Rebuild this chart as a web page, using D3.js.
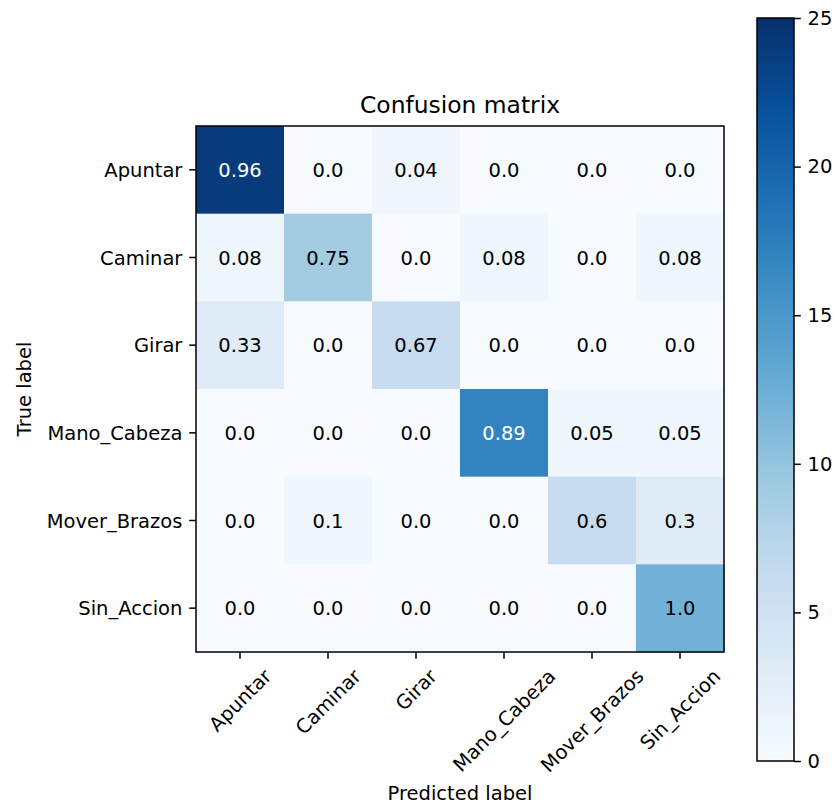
<!DOCTYPE html>
<html>
<head>
<meta charset="utf-8">
<script src="https://cdn.jsdelivr.net/npm/d3@7"></script>
<style>
  html, body { margin: 0; padding: 0; background: #fff; }
  svg { display: block; font-family: "DejaVu Sans", sans-serif; }
</style>
</head>
<body>
<svg id="chart" width="837" height="809"></svg>
<script>
// Class names (rows = true label, columns = predicted label)
const classes = ["Apuntar", "Caminar", "Girar", "Mano_Cabeza", "Mover_Brazos", "Sin_Accion"];

// Raw sample counts per true class
const rowApuntar     = [24, 0, 1, 0, 0, 0];
const rowCaminar     = [1, 9, 0, 1, 0, 1];
const rowGirar       = [3, 0, 6, 0, 0, 0];
const rowManoCabeza  = [0, 0, 0, 17, 1, 1];
const rowMoverBrazos = [0, 1, 0, 0, 6, 3];
const rowSinAccion   = [0, 0, 0, 0, 0, 12];
const counts = [rowApuntar, rowCaminar, rowGirar, rowManoCabeza, rowMoverBrazos, rowSinAccion];

// Colour bar range and ticks
const colorDomain = [0, 25];
const colorTicks = [0, 5, 10, 15, 20, 25];

const titleText = "Confusion matrix";
const xLabelText = "Predicted label";
const yLabelText = "True label";

// Matplotlib "Blues" colormap stops
const bluesStops = ["#f7fbff", "#deebf7", "#c6dbef", "#9ecae1", "#6baed6", "#4292c6", "#2171b5", "#08519c", "#08306b"];

const svg = d3.select("#chart");
const fs = 19.5;          // tick / annotation font size
const tickLen = 6.8, tickPad = 6.8, lw = 1.5;

const plot = { left: 196, top: 126, right: 724, bottom: 652 };
const x = d3.scaleBand().domain(d3.range(classes.length)).range([plot.left, plot.right]);
const y = d3.scaleBand().domain(d3.range(classes.length)).range([plot.top, plot.bottom]);

const blues = d3.scaleLinear()
  .domain(bluesStops.map((_, i) => colorDomain[0] + (colorDomain[1] - colorDomain[0]) * i / (bluesStops.length - 1)))
  .range(bluesStops)
  .interpolate(d3.interpolateRgb)
  .clamp(true);

// Flatten into cells with normalised value per row
const cells = [];
counts.forEach((row, i) => {
  const total = d3.sum(row);
  row.forEach((c, j) => cells.push({ i, j, count: c, norm: c / total }));
});
const thresh = d3.max(counts.flat()) / 2;

function pyRound(v) {
  const r = Math.round(v * 100) / 100;
  return Number.isInteger(r) ? r.toFixed(1) : String(r);
}

// Heatmap cells
svg.append("g").selectAll("rect").data(cells).join("rect")
  .attr("x", d => x(d.j))
  .attr("y", d => y(d.i))
  .attr("width", x.bandwidth() + 0.5)
  .attr("height", y.bandwidth() + 0.5)
  .attr("fill", d => blues(d.count));

// Cell annotations
svg.append("g").selectAll("text").data(cells).join("text")
  .attr("x", d => x(d.j) + x.bandwidth() / 2)
  .attr("y", d => y(d.i) + y.bandwidth() / 2)
  .attr("dy", "0.36em")
  .attr("text-anchor", "middle")
  .attr("font-size", fs)
  .attr("fill", d => d.count > thresh ? "#ffffff" : "#000000")
  .text(d => pyRound(d.norm));

// Axes frame
svg.append("rect")
  .attr("x", plot.left).attr("y", plot.top)
  .attr("width", plot.right - plot.left).attr("height", plot.bottom - plot.top)
  .attr("fill", "none").attr("stroke", "#000").attr("stroke-width", lw);

// Y ticks
const yg = svg.append("g");
classes.forEach((c, i) => {
  const cy = y(i) + y.bandwidth() / 2;
  yg.append("line").attr("x1", plot.left - tickLen).attr("x2", plot.left)
    .attr("y1", cy).attr("y2", cy).attr("stroke", "#000").attr("stroke-width", lw);
  yg.append("text").attr("x", plot.left - tickLen - tickPad).attr("y", cy)
    .attr("dy", "0.36em").attr("text-anchor", "end").attr("font-size", fs).text(c);
});

// X ticks with labels rotated 45 degrees, centred under each tick
const xg = svg.append("g");
const labelTop = plot.bottom + tickLen + tickPad;
const lineH = fs * 1.0;
classes.forEach((c, j) => {
  const cx = x(j) + x.bandwidth() / 2;
  xg.append("line").attr("x1", cx).attr("x2", cx)
    .attr("y1", plot.bottom).attr("y2", plot.bottom + tickLen)
    .attr("stroke", "#000").attr("stroke-width", lw);
  const t = xg.append("text").attr("text-anchor", "middle").attr("font-size", fs)
    .attr("dy", "0.36em").text(c);
  const w = t.node().getComputedTextLength();
  const half = (w + lineH) * Math.SQRT1_2 / 2;
  t.attr("transform", `translate(${cx},${labelTop + half}) rotate(-45)`);
});

// Title and axis labels
svg.append("text").attr("x", (plot.left + plot.right) / 2).attr("y", 113)
  .attr("text-anchor", "middle").attr("font-size", 23.4).text(titleText);
svg.append("text").attr("x", (plot.left + plot.right) / 2).attr("y", 800)
  .attr("text-anchor", "middle").attr("font-size", fs).text(xLabelText);
svg.append("text").attr("transform", `translate(31,${(plot.top + plot.bottom) / 2}) rotate(-90)`)
  .attr("text-anchor", "middle").attr("font-size", fs).text(yLabelText);

// Colour bar
const cb = { left: 757, right: 794, top: 18, bottom: 761 };
const cbScale = d3.scaleLinear().domain(colorDomain).range([cb.bottom, cb.top]);
const defs = svg.append("defs");
const grad = defs.append("linearGradient").attr("id", "cbGrad")
  .attr("x1", 0).attr("y1", 1).attr("x2", 0).attr("y2", 0);
bluesStops.forEach((col, i) => {
  grad.append("stop").attr("offset", i / (bluesStops.length - 1)).attr("stop-color", col);
});
svg.append("rect").attr("x", cb.left).attr("y", cb.top)
  .attr("width", cb.right - cb.left).attr("height", cb.bottom - cb.top)
  .attr("fill", "url(#cbGrad)").attr("stroke", "#000").attr("stroke-width", lw);

const cbAxis = d3.axisRight(cbScale).tickValues(colorTicks).tickSize(tickLen).tickPadding(tickPad)
  .tickFormat(d3.format("d"));
const cbg = svg.append("g").attr("transform", `translate(${cb.right},0)`).call(cbAxis);
cbg.select(".domain").remove();
cbg.selectAll(".tick line").attr("stroke", "#000").attr("stroke-width", lw);
cbg.selectAll(".tick text").attr("font-size", fs).attr("font-family", "DejaVu Sans, sans-serif").attr("fill", "#000");
</script>
</body>
</html>
